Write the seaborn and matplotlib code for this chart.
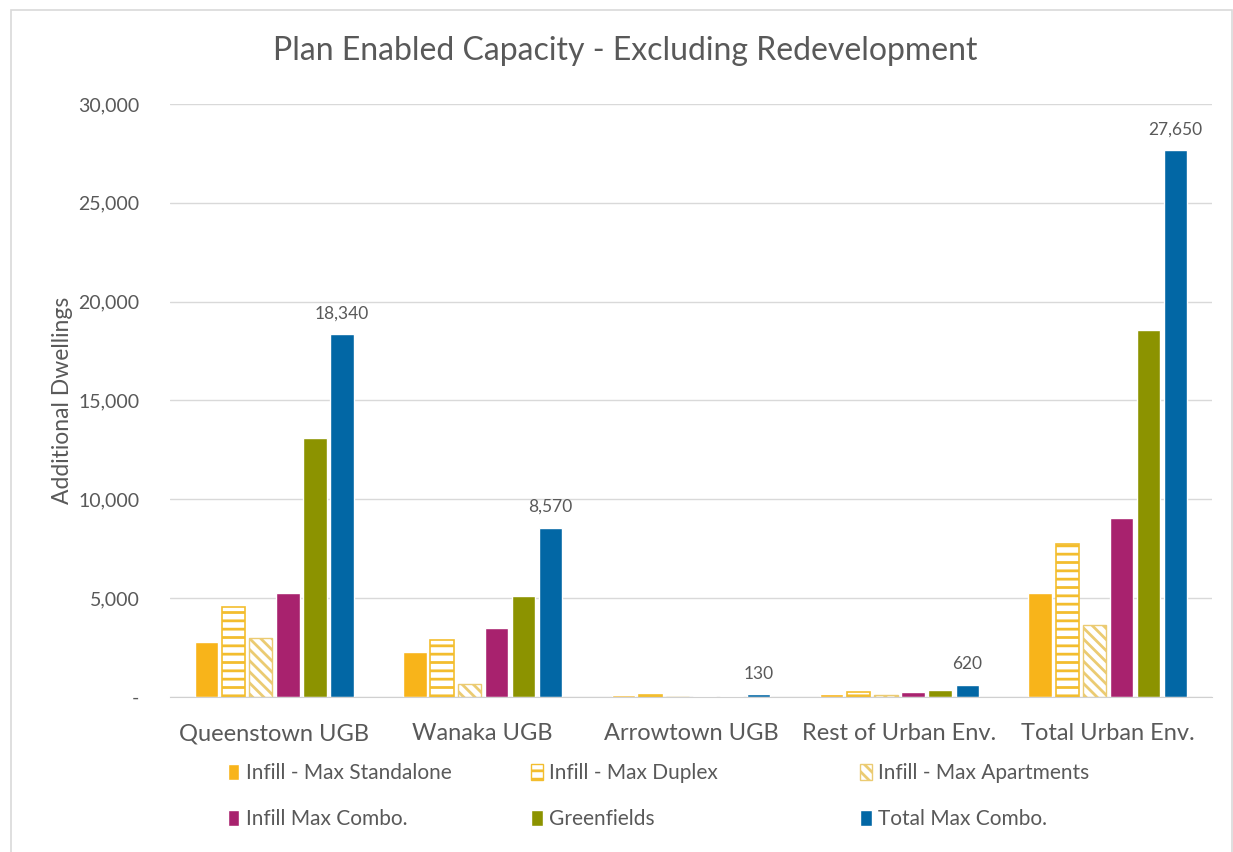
import seaborn as sns
import pandas as pd
import matplotlib.pyplot as plt
from matplotlib.patches import Patch, Rectangle

# data
areas = ['Queenstown UGB', 'Wanaka UGB', 'Arrowtown UGB', 'Rest of Urban Env.', 'Total Urban Env.']
series = ['Infill - Max Standalone', 'Infill - Max Duplex', 'Infill - Max Apartments',
          'Infill Max Combo.', 'Greenfields', 'Total Max Combo.']
standalone = [2770, 2280, 80, 160, 5240]
duplex = [4540, 2860, 80, 260, 7760]
apartments = [3000, 660, 0, 90, 3640]
combo = [5250, 3490, 70, 260, 9050]
greenfields = [13090, 5090, 60, 370, 18580]
total = [18340, 8570, 130, 620, 27650]
total_labels = ['18,340', '8,570', '130', '620', '27,650']

values = [standalone, duplex, apartments, combo, greenfields, total]
rows = []
for s, vals in zip(series, values):
    for a, v in zip(areas, vals):
        rows.append({'Area': a, 'Series': s, 'Dwellings': v})
df = pd.DataFrame(rows)

pal = {'Infill - Max Standalone': '#F8B41A', 'Infill - Max Duplex': '#F3C03A',
       'Infill - Max Apartments': '#EED690', 'Infill Max Combo.': '#A8226E',
       'Greenfields': '#8C9300', 'Total Max Combo.': '#0267A5'}
grey = '#595959'

sns.set_style('white')
plt.rcParams['font.family'] = ['Lato', 'DejaVu Sans']
plt.rcParams['hatch.linewidth'] = 2.0

fig = plt.figure(figsize=(12.33, 8.52), dpi=100)
ax = fig.add_axes([0.138, 0.182, 0.845, 0.696])

sns.barplot(data=df, x='Area', y='Dwellings', hue='Series', hue_order=series,
            order=areas, palette=pal, saturation=1, width=0.78, gap=0.14, ax=ax, legend=False)

# hatched infill bars like the original
for i, cont in enumerate(ax.containers):
    for bar in cont:
        if i == 1:
            bar.set_facecolor('white')
            bar.set_edgecolor('#F3BD2E')
            bar.set_hatch('--')
            bar.set_linewidth(1.2)
        elif i == 2:
            bar.set_facecolor('white')
            bar.set_edgecolor('#EBCB72')
            bar.set_hatch('\\\\\\')
            bar.set_linewidth(1.0)

ax.bar_label(ax.containers[5], labels=total_labels, padding=9, color=grey, fontsize=12.5)

ax.set_ylim(0, 30000)
ax.set_yticks(range(0, 30001, 5000))
ax.set_yticklabels(['-'] + [f'{v:,}' for v in range(5000, 30001, 5000)])
ax.yaxis.grid(True, color='#D9D9D9', linewidth=1)
ax.set_axisbelow(True)
ax.tick_params(axis='y', length=0, pad=22, labelsize=14, labelcolor=grey)
ax.tick_params(axis='x', length=0, pad=19, labelsize=17, labelcolor=grey)
for side in ['top', 'right', 'left']:
    ax.spines[side].set_visible(False)
ax.spines['bottom'].set_color('#D0D0D0')
ax.set_xlabel('')
ax.set_ylabel('Additional Dwellings', fontsize=16.5, color=grey, labelpad=4)
ax.set_xlim(-0.5, 4.5)

fig.text(0.507, 0.94, 'Plan Enabled Capacity - Excluding Redevelopment',
         ha='center', va='center', fontsize=23, color=grey)

# legend in three columns, two rows
cols = [(0.178, [0, 3]), (0.424, [1, 4]), (0.691, [2, 5])]
for x, idx in cols:
    handles = []
    for i in idx:
        if i == 1:
            h = Patch(facecolor='white', edgecolor='#F3BD2E', hatch='--', label=series[i])
        elif i == 2:
            h = Patch(facecolor='white', edgecolor='#EBCB72', hatch='\\\\\\', label=series[i])
        else:
            h = Patch(facecolor=pal[series[i]], label=series[i])
        handles.append(h)
    fig.legend(handles=handles, loc='upper left', bbox_to_anchor=(x, 0.114),
               frameon=False, handlelength=0.55, handleheight=0.8, handletextpad=0.3,
               labelspacing=1.25, fontsize=15, labelcolor=grey, borderaxespad=0)

# thin frame round the chart
fig.patches.append(Rectangle((0.009, -0.01), 0.99, 0.998, transform=fig.transFigure,
                             fill=False, edgecolor='#D9D9D9', linewidth=1.2))

plt.savefig('out.png', dpi=100)
